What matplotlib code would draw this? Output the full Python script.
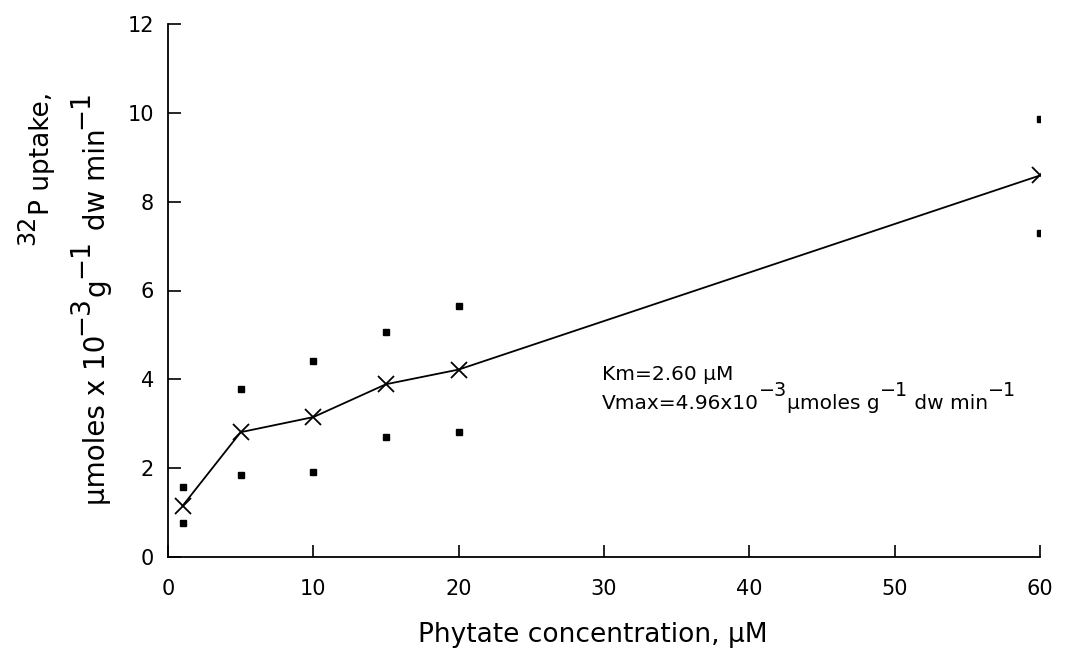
import matplotlib
matplotlib.use("Agg")
import matplotlib.pyplot as plt

plt.rcParams['font.family'] = ['DejaVu Sans']

conc = [1, 5, 10, 15, 20, 60]
mean_uptake = [1.15, 2.81, 3.15, 3.89, 4.22, 8.59]
upper_uptake = [1.58, 3.78, 4.42, 5.06, 5.66, 9.87]
lower_uptake = [0.77, 1.84, 1.91, 2.71, 2.82, 7.30]
xticks = [0, 10, 20, 30, 40, 50, 60]
yticks = [0, 2, 4, 6, 8, 10, 12]

W, H = 1073, 663
fig = plt.figure(figsize=(W / 100, H / 100), dpi=100)
ax = fig.add_axes([168 / W, 1 - 557 / H, (1040 - 168) / W, (557 - 24) / H])

ax.plot(conc, mean_uptake, color='black', lw=1.3, marker='x', ms=11, mew=1.3)
ax.plot(conc, upper_uptake, ls='none', marker='s', ms=4.5, color='black')
ax.plot(conc, lower_uptake, ls='none', marker='s', ms=4.5, color='black')

ax.set_xlim(0, 60)
ax.set_ylim(0, 12)
ax.set_xticks(xticks)
ax.set_yticks(yticks)
ax.spines['top'].set_visible(False)
ax.spines['right'].set_visible(False)
for s in ('left', 'bottom'):
    ax.spines[s].set_linewidth(1.3)
ax.tick_params(direction='in', length=9, width=1.2, labelsize=15, pad=10)
ax.tick_params(axis='x', pad=16)


def chain(pieces, x0, y0, size, vertical=False, sup_scale=0.9, raise_pt=9.5, gap_pt=0.0):
    """Place text pieces one after another; pieces = [(text, is_superscript), ...]."""
    prev = None
    for txt, sup in pieces:
        fs = size * sup_scale if sup else size
        dy = raise_pt if sup else 0.0
        if vertical:
            if prev is None:
                xy, xyc = (x0, y0), 'figure fraction'
            else:
                xy, xyc = (x0, 1), ('figure fraction', prev)
            off = (-dy, gap_pt if prev is not None else 0)
        else:
            if prev is None:
                xy, xyc = (x0, y0), 'figure fraction'
            else:
                xy, xyc = (1, y0), (prev, 'figure fraction')
            off = (gap_pt if prev is not None else 0, dy)
        prev = ax.annotate(txt, xy=xy, xycoords=xyc, xytext=off, textcoords='offset points',
                           ha='left', va='baseline', fontsize=fs,
                           rotation=90 if vertical else 0, rotation_mode='anchor',
                           annotation_clip=False)
    return prev


# axis labels
fig.text(593 / W, 1 - 635 / H, 'Phytate concentration, μM', ha='center', va='center', fontsize=19)
chain([('32', True), ('P uptake,', False)], 49 / W, 1 - 245 / H, 19, vertical=True,
      raise_pt=11, sup_scale=0.9)
chain([('μmoles x 10', False), ('−3', True), ('g', False), ('−1', True),
       (' dw min', False), ('−1', True)], 105 / W, 1 - 505 / H, 20, vertical=True,
      raise_pt=12, sup_scale=0.95)

# annotation
chain([('Km=2.60 μM', False)], 602 / W, 1 - 380 / H, 14.5)
chain([('Vmax=4.96x10', False), ('−3', True), ('μmoles g', False), ('−1', True),
       (' dw min', False), ('−1', True)], 602 / W, 1 - 409 / H, 14.5,
      raise_pt=9.5, sup_scale=0.95)

fig.savefig('out.png', dpi=100)
